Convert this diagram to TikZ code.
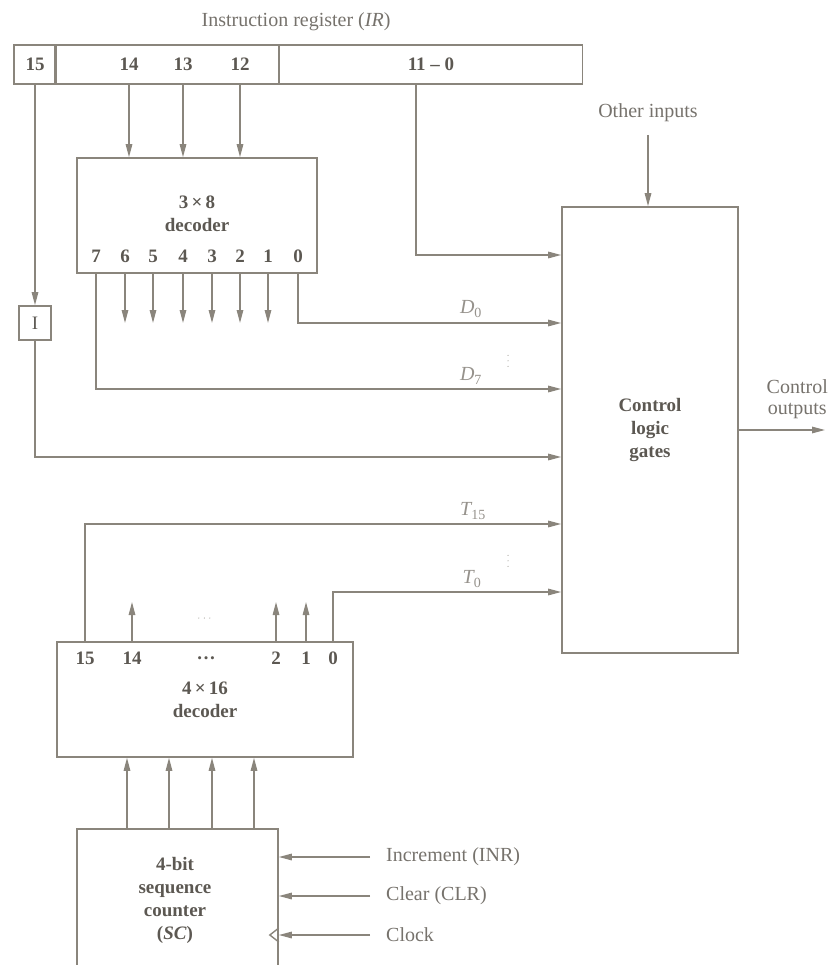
\documentclass[tikz,border=0pt]{standalone}
\usepackage{fontspec}
\setmainfont{Liberation Serif}
\usepackage{xcolor}
\usepackage{tikz}
\usetikzlibrary{arrows.meta, positioning}
\definecolor{wire}{RGB}{138,133,124}
\definecolor{boxInk}{RGB}{92,88,82}
\definecolor{textInk}{RGB}{118,114,108}
\definecolor{softInk}{RGB}{150,146,140}
\tikzset{
  block/.style={
    draw=wire,
    line width=1.6pt,
    inner sep=0pt
  },
  cell/.style={block, minimum height=39pt},
  boxtext/.style={font=\fontsize{19}{23}\selectfont\bfseries, text=boxInk, align=center, inner sep=1pt},
  pin/.style={font=\fontsize{19}{23}\selectfont\bfseries, text=boxInk, inner sep=1pt},
  outer/.style={font=\fontsize{20}{21}\selectfont, text=textInk, align=center, inner sep=1pt},
  signame/.style={font=\fontsize{20}{20}\selectfont\itshape, text=softInk, inner sep=1pt},
  dotspot/.style={inner sep=0pt, minimum width=2pt, minimum height=13pt},
  dotline/.style={draw=softInk, line width=1.1pt, line cap=round, dash pattern=on 0pt off 5.5pt},
  wireto/.style={draw=wire, line width=1.4pt, -{Triangle[length=13pt,width=6.5pt]}},
  plain/.style={draw=wire, line width=1.4pt}
}

\begin{document}
\begin{tikzpicture}[x=1pt, y=-1pt]
  \useasboundingbox (0,0) rectangle (827,965);
  \clip (0,0) rectangle (827,965);

  % instruction register
  \node[outer] (irname) at (296,22) {Instruction register (\textit{IR})};
  \node[cell, pin, minimum width=42pt] (ir15) at (35,64.5) {15};
  \node[cell, minimum width=224pt] (irop) at (167,64.5) {};
  \node[cell, pin, minimum width=303pt] (iraddr) at (431,64.5) {11 -- 0};
  \node[pin] (bit14) at (129,64.5) {14};
  \node[pin] (bit13) at (183,64.5) {13};
  \node[pin] (bit12) at (240,64.5) {12};

  % 3 x 8 decoder
  \node[block, minimum width=240pt, minimum height=115pt] (dec38) at (197,215.5) {};
  \node[boxtext] (dec38name) at (197,214) {3\,×\,8\\decoder};
  \node[pin] (q7) at (96,256) {7};
  \node[pin] (q6) at (125,256) {6};
  \node[pin] (q5) at (153,256) {5};
  \node[pin] (q4) at (183,256) {4};
  \node[pin] (q3) at (212,256) {3};
  \node[pin] (q2) at (240,256) {2};
  \node[pin] (q1) at (268,256) {1};
  \node[pin] (q0) at (298,256) {0};

  % control logic
  \node[block, minimum width=176pt, minimum height=446pt] (ctrl) at (650,430) {};
  \node[boxtext] (ctrlname) at (650,430) {Control\\logic\\gates};
  \node[outer] (otherin) at (648,113) {Other inputs};
  \node[outer, anchor=east] (outname) at (829,399) {Control\\outputs};
  \coordinate (ctrlout) at (825,430);

  % bit 15
  \node[block, minimum width=32pt, minimum height=34pt, font=\fontsize{19}{19}\selectfont, text=boxInk] (ibit) at (35,323) {I};

  % 4 x 16 decoder
  \node[block, minimum width=296pt, minimum height=115pt] (dec416) at (205,699.5) {};
  \node[boxtext] (dec416name) at (205,700) {4\,×\,16\\decoder};
  \node[pin] (p15) at (85,658) {15};
  \node[pin] (p14) at (132,658) {14};
  \node[pin] (pmid) at (206,658) {\dots};
  \node[pin] (p2) at (276,658) {2};
  \node[pin] (p1) at (306,658) {1};
  \node[pin] (p0) at (333,658) {0};

  % sequence counter
  \node[block, minimum width=201pt, minimum height=160pt, anchor=north] (sc) at (177.5,828) {};
  \node[boxtext] (scname) at (175,900) {4-bit\\sequence\\counter\\(\textit{SC})};
  \node[outer, anchor=west] (incr) at (385,857) {Increment (INR)};
  \node[outer, anchor=west] (clr) at (385,896) {Clear (CLR)};
  \node[outer, anchor=west] (clk) at (385,935) {Clock};
  \coordinate (sca) at (127,828);
  \coordinate (scb) at (169,828);
  \coordinate (scc) at (212,828);
  \coordinate (scd) at (254,828);
  \coordinate (clkpin) at (clk -| sc.east);

  % levels of the lines into the control gates
  \coordinate (irlevel) at (416,255);
  \coordinate (dlevel) at (0,323);
  \coordinate (d7level) at (0,389);
  \coordinate (ilevel) at (0,457);
  \coordinate (t15level) at (0,524);
  \coordinate (t0level) at (0,592);
  \coordinate (tlevel) at (0,602);

  \node[signame] (d0name) at (471,309) {D\textsubscript{\upshape 0}};
  \node[signame] (d7name) at (471,376) {D\textsubscript{\upshape 7}};
  \node[signame] (t15name) at (473,511) {T\textsubscript{\upshape 15}};
  \node[signame] (t0name) at (472,579) {T\textsubscript{\upshape 0}};
  \node[dotspot] (ddots) at (508,362) {};
  \node[dotspot] (tdots) at (508,562) {};
  \node[dotspot, minimum width=14pt, minimum height=2pt] (updots) at (206,618) {};

  \draw[wireto] (bit14 |- irop.south) -- (bit14 |- dec38.north);
  \draw[wireto] (bit13 |- irop.south) -- (bit13 |- dec38.north);
  \draw[wireto] (bit12 |- irop.south) -- (bit12 |- dec38.north);
  \draw[wireto] (irlevel |- iraddr.south) |- (ctrl.west |- irlevel);
  \draw[wireto] (ir15) -- (ibit);
  \draw[wireto] (ibit) |- (ctrl.west |- ilevel);

  \draw[wireto] (q6 |- dec38.south) -- (q6 |- dlevel);
  \draw[wireto] (q5 |- dec38.south) -- (q5 |- dlevel);
  \draw[wireto] (q4 |- dec38.south) -- (q4 |- dlevel);
  \draw[wireto] (q3 |- dec38.south) -- (q3 |- dlevel);
  \draw[wireto] (q2 |- dec38.south) -- (q2 |- dlevel);
  \draw[wireto] (q1 |- dec38.south) -- (q1 |- dlevel);
  \draw[wireto] (q0 |- dec38.south) |- (ctrl.west |- dlevel);
  \draw[wireto] (q7 |- dec38.south) |- (ctrl.west |- d7level);

  \draw[dotline] (ddots.north) -- (ddots.south);
  \draw[dotline] (tdots.north) -- (tdots.south);
  \draw[dotline] (updots.west) -- (updots.east);

  \draw[wireto] (otherin |- 0,135) -- (otherin |- ctrl.north);
  \draw[wireto] (ctrl.east) -- (ctrlout);

  \draw[wireto] (p15 |- dec416.north) |- (ctrl.west |- t15level);
  \draw[wireto] (p0 |- dec416.north) |- (ctrl.west |- t0level);
  \draw[wireto] (p14 |- dec416.north) -- (p14 |- tlevel);
  \draw[wireto] (p2 |- dec416.north) -- (p2 |- tlevel);
  \draw[wireto] (p1 |- dec416.north) -- (p1 |- tlevel);

  \draw[wireto] (sca) -- (sca |- dec416.south);
  \draw[wireto] (scb) -- (scb |- dec416.south);
  \draw[wireto] (scc) -- (scc |- dec416.south);
  \draw[wireto] (scd) -- (scd |- dec416.south);

  \draw[wireto] ([xshift=-15pt]incr.west) -- (incr -| sc.east);
  \draw[wireto] ([xshift=-15pt]clr.west) -- (clr -| sc.east);
  \draw[wireto] ([xshift=-15pt]clk.west) -- (clkpin);
  \draw[plain] ([yshift=7pt]clkpin) -- ([xshift=-9pt]clkpin) -- ([yshift=-7pt]clkpin);
\end{tikzpicture}
\end{document}
